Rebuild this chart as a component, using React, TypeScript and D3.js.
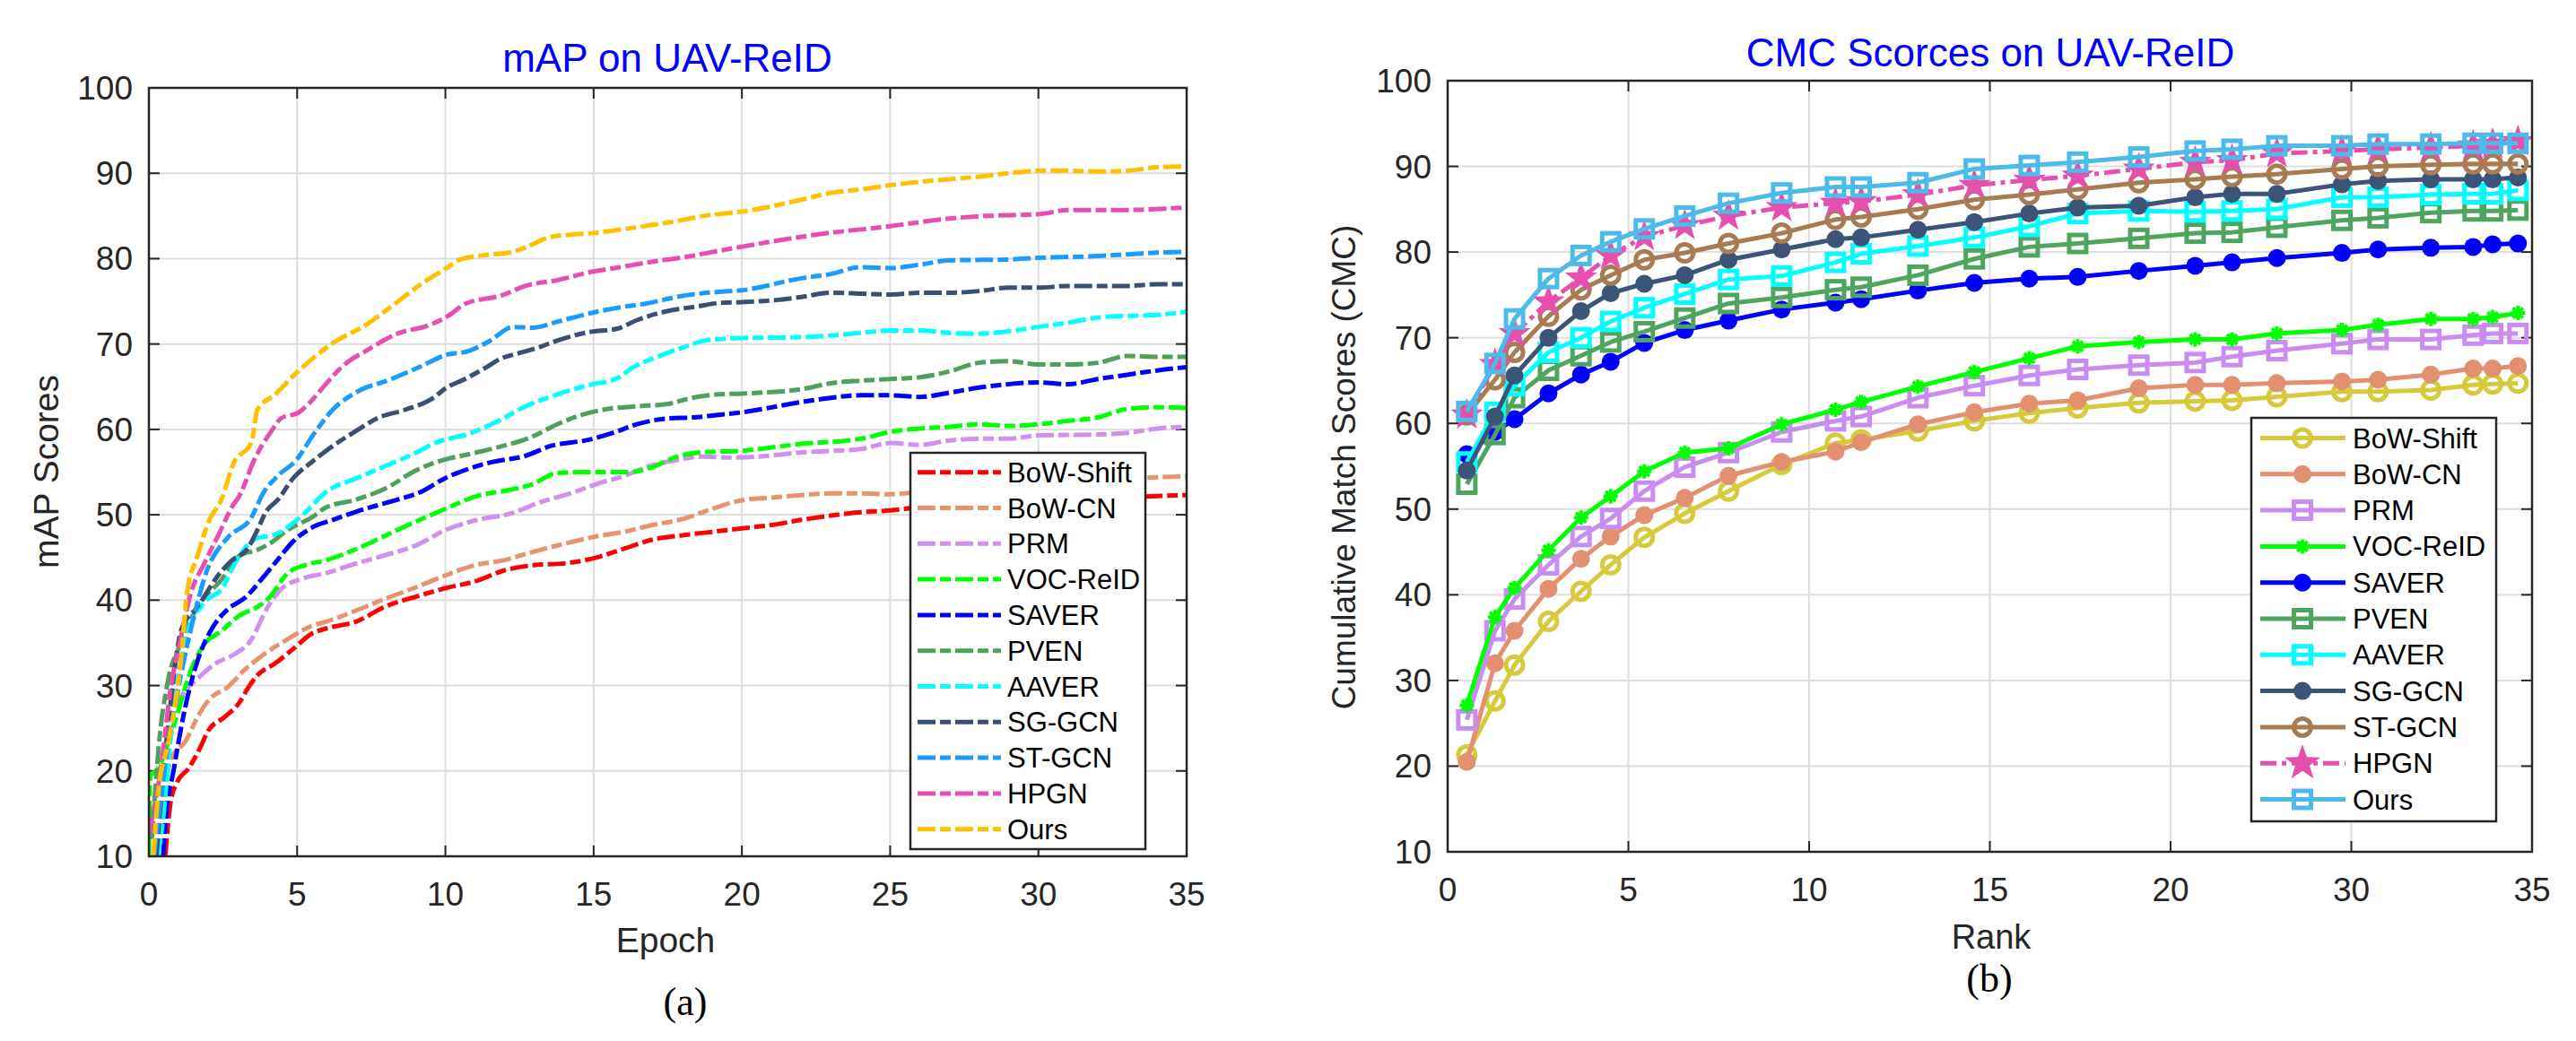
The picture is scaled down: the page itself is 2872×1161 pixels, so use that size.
import React from 'react'
import * as d3 from 'd3'

type Pt = [number, number]

const FONT = '"Liberation Sans", Arial, Helvetica, sans-serif'
const INK = '#262626'
const GRID = '#dedede'

// ── (a) mAP on UAV-ReID ─────────────────────────────────────────
const epochTicks = [0, 5, 10, 15, 20, 25, 30, 35]
const scoreTicks = [10, 20, 30, 40, 50, 60, 70, 80, 90, 100]

const mapBowShift: Pt[] = [[0.55, 10], [0.74, 16.5], [0.94, 18.6], [1.34, 20.3], [1.64, 22.1], [2.04, 24.9], [2.55, 26.3], [3.05, 28], [3.36, 29.8], [3.66, 31.2], [4.26, 32.6], [4.87, 34.3], [5.5, 36.1], [6, 36.7], [7, 37.5], [8, 39.3], [9, 40.4], [10, 41.4], [11, 42.2], [12, 43.5], [13, 44.1], [14, 44.3], [15, 44.9], [16, 46], [17, 47.1], [18, 47.6], [19, 48], [20, 48.4], [21, 48.8], [22, 49.4], [23, 49.9], [24, 50.3], [25, 50.5], [26, 50.9], [28, 51.3], [30, 51.6], [32, 51.9], [34, 52.2], [35, 52.3]]
const mapBowCN: Pt[] = [[0.3, 10], [0.43, 14.7], [0.74, 21.4], [1.24, 23.5], [1.64, 26.3], [2.04, 28.4], [2.65, 29.8], [3.25, 31.9], [3.86, 33.6], [4.67, 35.4], [5.5, 37], [6, 37.5], [7, 38.8], [8, 40.2], [9, 41.5], [10, 42.9], [11, 44.1], [12, 44.7], [13, 45.7], [14, 46.6], [15, 47.4], [16, 48], [17, 48.8], [18, 49.5], [19, 50.7], [20, 51.7], [21, 52], [22, 52.3], [23, 52.5], [24, 52.5], [25, 52.4], [26, 52.7], [28, 53.2], [30, 53.6], [32, 54], [34, 54.4], [35, 54.5]]
const mapPRM: Pt[] = [[0.3, 10], [0.64, 24.9], [1.04, 28.4], [1.64, 30.8], [2.25, 32.6], [2.85, 33.6], [3.46, 35.4], [3.96, 38.9], [4.46, 41.3], [5.06, 42.4], [6, 43.2], [7, 44.3], [8, 45.3], [9, 46.4], [10, 48.2], [11.07, 49.4], [12.15, 50.1], [13.22, 51.5], [14.2, 52.5], [15.1, 53.6], [16.07, 54.6], [16.88, 55.7], [17.8, 56.4], [18.6, 56.8], [19.6, 56.7], [20.5, 56.8], [22, 57.3], [24, 57.7], [25, 58.4], [26, 58.2], [27, 58.7], [28, 58.9], [29, 58.9], [30, 59.3], [32, 59.4], [33, 59.6], [34, 60.1], [35, 60.3]]
const mapVOC: Pt[] = [[0, 10], [0.05, 19.5], [0.25, 20], [0.83, 25.2], [1.43, 31.9], [1.84, 34.7], [2.45, 36.4], [3.05, 38.2], [3.66, 39.2], [4.06, 40.3], [4.67, 43.1], [5.27, 44.1], [6, 44.7], [7, 46], [8, 47.6], [9, 49.2], [10, 50.7], [11.07, 52.2], [12.15, 52.9], [12.95, 53.6], [13.77, 54.9], [14.85, 55], [16.2, 55], [17, 55.6], [17.8, 56.8], [18.6, 57.3], [20, 57.5], [22, 58.3], [24, 58.9], [25, 59.7], [26, 60.1], [27, 60.3], [28, 60.6], [29, 60.4], [30, 60.6], [31, 61], [32, 61.4], [33, 62.4], [34, 62.6], [35, 62.5]]
const mapSAVER: Pt[] = [[0.48, 10], [0.58, 14.7], [0.83, 20], [1.24, 27.7], [1.64, 32.9], [2.15, 36.8], [2.65, 38.9], [3.25, 40.3], [3.86, 42.7], [4.36, 44.8], [4.87, 46.9], [5.5, 48.5], [6.2, 49.4], [7.02, 50.4], [8.1, 51.5], [9.18, 52.7], [10, 54.3], [10.8, 55.4], [11.6, 56.2], [12.7, 56.9], [13.5, 58], [14.85, 58.8], [15.66, 59.6], [16.46, 60.6], [17.55, 61.3], [18.36, 61.4], [19.2, 61.7], [20, 62], [22, 63.2], [23, 63.7], [24, 64], [25, 64], [26, 63.8], [27, 64.3], [28, 64.9], [29, 65.3], [30, 65.5], [31, 65.3], [32, 65.9], [33, 66.4], [34, 66.9], [35, 67.3]]
const mapPVEN: Pt[] = [[0.1, 12], [0.33, 22.8], [0.64, 30.5], [1.04, 34.7], [1.64, 39.2], [2.45, 42.4], [3.05, 45.2], [3.66, 45.9], [4.15, 46.8], [4.67, 48.2], [5.5, 49.7], [5.94, 50.8], [7.02, 51.8], [8.1, 53.3], [8.9, 55], [9.72, 56.2], [10.8, 57.1], [11.88, 58], [12.83, 59], [13.77, 60.6], [14.6, 61.7], [15.5, 62.4], [16.46, 62.7], [17.55, 63], [18.2, 63.6], [19.2, 64.1], [20, 64.2], [22, 64.7], [23, 65.4], [24, 65.7], [25, 65.9], [26, 66.1], [27, 66.8], [28, 67.8], [29, 68], [30, 67.6], [31, 67.6], [32, 67.8], [33, 68.6], [34, 68.5], [35, 68.5]]
const mapAAVER: Pt[] = [[0.3, 10], [0.43, 13], [0.83, 27], [1.24, 35.4], [1.84, 39.6], [2.45, 41.3], [3.05, 45.2], [3.66, 47.3], [4.18, 47.6], [5, 49.4], [6.07, 52.9], [7.02, 54.3], [7.83, 55.5], [8.9, 57.1], [9.72, 58.5], [10.8, 59.5], [11.74, 60.9], [12.7, 62.7], [13.77, 64.1], [14.85, 65.2], [15.8, 66], [16.3, 67.2], [17.15, 68.5], [18.1, 69.7], [18.76, 70.4], [20, 70.7], [22, 70.8], [23, 71], [24, 71.3], [25, 71.6], [26, 71.6], [27, 71.3], [28, 71.2], [29, 71.5], [30, 72], [31, 72.5], [32, 73.1], [33, 73.3], [34, 73.4], [35, 73.8]]
const mapSGGCN: Pt[] = [[0.25, 10], [0.5, 20], [0.8, 30], [1.09, 36.5], [1.64, 39.2], [2.45, 43.4], [2.75, 44.5], [3.36, 46.2], [3.67, 48.3], [3.96, 50.4], [4.36, 51.8], [4.87, 54.3], [5.5, 56.2], [5.94, 57.4], [7.02, 59.9], [7.7, 61.3], [8.64, 62.3], [9.6, 63.7], [10, 64.8], [10.66, 65.9], [11.34, 67.2], [11.88, 68.3], [12.56, 69], [13.22, 69.7], [13.77, 70.4], [14.85, 71.4], [15.8, 71.8], [16.46, 72.8], [17.55, 73.9], [18.5, 74.4], [19.2, 74.8], [20, 74.9], [21, 75.1], [22, 75.5], [23, 76], [24, 75.9], [25, 75.8], [26, 76], [27, 76], [28, 76.2], [29, 76.6], [30, 76.6], [31, 76.8], [33, 76.8], [34, 77], [35, 77]]
const mapSTGCN: Pt[] = [[0.18, 10], [0.52, 20], [0.94, 28.7], [1.43, 36.8], [1.95, 43.4], [2.65, 47.3], [3.46, 49.7], [3.85, 52.5], [4.36, 54.6], [4.97, 56.4], [5.57, 59.5], [6.2, 62.3], [7.02, 64.4], [8.1, 65.8], [9.18, 67.4], [10, 68.7], [10.8, 69.2], [11.47, 70.3], [12.28, 72], [12.95, 71.9], [13.77, 72.6], [15, 73.7], [15.9, 74.3], [16.7, 74.7], [18.1, 75.7], [19.2, 76.1], [20, 76.3], [22, 77.7], [23, 78.2], [24, 79], [25, 78.9], [26, 79.3], [27, 79.8], [29, 79.9], [30, 80.1], [32, 80.3], [33, 80.5], [34, 80.7], [35, 80.8]]
const mapHPGN: Pt[] = [[0, 12.6], [0.43, 21], [0.74, 29.8], [1.04, 35], [1.43, 41], [1.84, 44.1], [2.34, 47.6], [2.85, 51.2], [3.05, 52.2], [3.55, 56.4], [4.15, 59.9], [4.46, 61.3], [5.06, 62], [5.5, 63.4], [5.94, 65.2], [6.5, 67.3], [7.42, 69.4], [8.37, 71.2], [9.45, 72.2], [10.1, 73.3], [10.66, 74.7], [11.9, 75.7], [12.7, 76.8], [13.8, 77.5], [15, 78.5], [15.9, 79], [16.9, 79.6], [18.1, 80.2], [19.2, 80.9], [20, 81.4], [22.7, 82.9], [25, 83.8], [27, 84.7], [28.2, 85], [30, 85.2], [31, 85.7], [33, 85.7], [34.5, 85.9], [35, 86]]
const mapOurs: Pt[] = [[0.15, 10], [0.33, 17.9], [0.67, 23.5], [1.09, 33.3], [1.28, 40.7], [1.64, 45.2], [2.04, 49.4], [2.45, 51.8], [2.85, 56], [3.46, 58.5], [3.66, 62.3], [4.26, 64.1], [5, 66.7], [6.2, 70.1], [7.3, 72.2], [8.37, 74.9], [9.17, 77], [10, 78.8], [10.5, 79.9], [11.3, 80.4], [12.15, 80.7], [12.7, 81.3], [13.5, 82.5], [14.2, 82.8], [15, 83], [15.9, 83.4], [16.9, 83.9], [17.8, 84.4], [18.9, 85.1], [20, 85.5], [22, 86.9], [23, 87.7], [24, 88.1], [25, 88.6], [26, 89], [27, 89.3], [28, 89.6], [29, 90], [30, 90.3], [31, 90.3], [32, 90.2], [33, 90.3], [34, 90.7], [35, 90.8]]

const methodNames = ['BoW-Shift', 'BoW-CN', 'PRM', 'VOC-ReID', 'SAVER', 'PVEN', 'AAVER', 'SG-GCN', 'ST-GCN', 'HPGN', 'Ours']
const mapSeries = [mapBowShift, mapBowCN, mapPRM, mapVOC, mapSAVER, mapPVEN, mapAAVER, mapSGGCN, mapSTGCN, mapHPGN, mapOurs]
const mapColours = ['#ff0000', '#e8926f', '#cf90f0', '#00ff00', '#0000ff', '#4f9f5f', '#00ffff', '#3a5072', '#1a9cff', '#e54faf', '#ffc000']

// ── (b) CMC scores on UAV-ReID ──────────────────────────────────
// rank positions are in tick units: ticks sit at 0..30 step 5, labelled below
const rankTickPos = [0, 5, 10, 15, 20, 25, 30]
const rankTickLabels = ['0', '5', '10', '15', '20', '30', '35']
const rankPos = [0.53, 1.31, 1.85, 2.79, 3.69, 4.51, 5.44, 6.56, 7.77, 9.24, 10.73, 11.44, 13.01, 14.57, 16.09, 17.43, 19.12, 20.68, 21.7, 22.94, 24.74, 25.74, 27.2, 28.37, 28.91, 29.61]

const cmcBowShift = [21.3, 27.6, 31.8, 36.9, 40.4, 43.5, 46.7, 49.5, 52.1, 55.2, 57.7, 58.1, 59.1, 60.3, 61.2, 61.8, 62.4, 62.6, 62.7, 63.1, 63.7, 63.7, 63.9, 64.5, 64.6, 64.7]
const cmcBowCN = [20.5, 32, 35.8, 40.7, 44.2, 46.8, 49.3, 51.3, 53.9, 55.5, 56.7, 57.8, 59.9, 61.3, 62.3, 62.7, 64.1, 64.5, 64.5, 64.7, 64.9, 65.1, 65.7, 66.4, 66.4, 66.7]
const cmcPRM = [25.4, 35.8, 39.5, 43.5, 46.8, 48.9, 52.1, 54.9, 56.6, 59, 60.3, 60.8, 63, 64.4, 65.6, 66.3, 66.8, 67.1, 67.8, 68.5, 69.3, 69.8, 69.8, 70.3, 70.5, 70.5]
const cmcVOC = [27.1, 37.4, 40.8, 45.2, 49, 51.5, 54.4, 56.6, 57.1, 59.9, 61.6, 62.5, 64.3, 66, 67.6, 69, 69.5, 69.8, 69.8, 70.5, 70.9, 71.5, 72.2, 72.2, 72.4, 72.9]
const cmcSAVER = [56.4, 59, 60.5, 63.5, 65.7, 67.2, 69.4, 70.9, 72, 73.3, 74.1, 74.5, 75.5, 76.4, 76.9, 77.1, 77.8, 78.4, 78.8, 79.3, 79.9, 80.3, 80.5, 80.6, 80.9, 81]
const cmcPVEN = [52.9, 58.7, 63, 66.2, 67.9, 69.5, 70.7, 72.3, 74, 74.7, 75.6, 75.9, 77.3, 79.2, 80.6, 81, 81.6, 82.2, 82.3, 82.9, 83.7, 84, 84.6, 84.8, 84.8, 84.9]
const cmcAAVER = [55.5, 61.3, 64.4, 68.3, 70, 71.9, 73.5, 75.1, 76.8, 77.2, 78.8, 79.8, 80.7, 81.7, 83, 84.5, 84.8, 84.7, 84.8, 85, 86.4, 86.4, 86.7, 86.8, 86.8, 87.2]
const cmcSGGCN = [54.5, 60.8, 65.6, 70, 73.1, 75.2, 76.3, 77.3, 79.1, 80.3, 81.5, 81.7, 82.6, 83.5, 84.5, 85.2, 85.4, 86.4, 86.8, 86.8, 87.9, 88.3, 88.5, 88.5, 88.5, 88.7]
const cmcSTGCN = [61, 65.1, 68.3, 72.5, 75.6, 77.3, 79.1, 79.9, 81, 82.2, 83.8, 84.1, 85, 86.1, 86.7, 87.3, 88.1, 88.5, 88.8, 89.1, 89.7, 90, 90.2, 90.3, 90.3, 90.3]
const cmcHPGN = [61, 66.9, 70.5, 74.2, 77, 79.6, 81.8, 83.1, 84.2, 85.2, 85.7, 85.9, 86.7, 87.8, 88.4, 88.9, 89.7, 90.5, 90.7, 91.5, 91.8, 92, 92.2, 92.4, 92.6, 92.9]
const cmcOurs = [61.4, 67, 72.2, 76.9, 79.6, 81.2, 82.7, 84.2, 85.7, 86.9, 87.6, 87.6, 88.1, 89.7, 90.1, 90.5, 91.1, 91.8, 92, 92.4, 92.4, 92.6, 92.6, 92.7, 92.7, 92.7]

const cmcSeries = [cmcBowShift, cmcBowCN, cmcPRM, cmcVOC, cmcSAVER, cmcPVEN, cmcAAVER, cmcSGGCN, cmcSTGCN, cmcHPGN, cmcOurs]
const cmcColours = ['#d6c93c', '#e39070', '#c98cf0', '#00ff00', '#0000ff', '#4fa55e', '#00ffff', '#3b5477', '#a87b52', '#e64fae', '#4dbbe9']
const cmcMarkers = ['circleOpen', 'circleFilled', 'squareOpen', 'asterisk', 'circleFilled', 'squareOpen', 'squareOpen', 'circleFilled', 'circleOpen', 'star', 'squareOpen']

// ── scales ──────────────────────────────────────────────────────
const xA = d3.scaleLinear().domain([0, 35]).range([166, 1323])
const yA = d3.scaleLinear().domain([10, 100]).range([955, 98])
const xB = d3.scaleLinear().domain([0, 30]).range([1614, 2823])
const yB = d3.scaleLinear().domain([10, 100]).range([950, 90])

const DASH = '20 5 12 5'
const DASHDOT = '18 6 5 6'

function starPath(cx: number, cy: number, R: number, r: number) {
  const pts: string[] = []
  for (let i = 0; i < 10; i++) {
    const a = -Math.PI / 2 + (i * Math.PI) / 5
    const rad = i % 2 === 0 ? R : r
    pts.push(`${cx + rad * Math.cos(a)},${cy + rad * Math.sin(a)}`)
  }
  return `M${pts.join('L')}Z`
}

function Marker({ kind, colour, x, y, legend }: { kind: string; colour: string; x: number; y: number; legend?: boolean }) {
  if (kind === 'circleOpen') return <circle cx={x} cy={y} r={9.5} fill="none" stroke={colour} strokeWidth={5} />
  if (kind === 'circleFilled') return <circle cx={x} cy={y} r={10} fill={colour} />
  if (kind === 'squareOpen') return <rect x={x - 9.5} y={y - 9.5} width={19} height={19} fill="none" stroke={colour} strokeWidth={5} />
  if (kind === 'asterisk') {
    const s = 8
    return (
      <path
        d={`M${x - s},${y}H${x + s}M${x},${y - s}V${y + s}M${x - s * 0.7},${y - s * 0.7}L${x + s * 0.7},${y + s * 0.7}M${x - s * 0.7},${y + s * 0.7}L${x + s * 0.7},${y - s * 0.7}`}
        stroke={colour}
        strokeWidth={4}
        fill="none"
      />
    )
  }
  // pentagram
  return <path d={starPath(x, y, legend ? 21 : 19, legend ? 8.5 : 7.6)} fill={colour} />
}

function Axes({ x, y, xTicks, xLabels, yTicks }: { x: d3.ScaleLinear<number, number>; y: d3.ScaleLinear<number, number>; xTicks: number[]; xLabels: string[]; yTicks: number[] }) {
  const [x0, x1] = x.range()
  const [y1, y0] = y.range()
  const tl = 12
  return (
    <g>
      {xTicks.slice(1, -1).map(t => (
        <line key={'gx' + t} x1={x(t)} x2={x(t)} y1={y0} y2={y1} stroke={GRID} strokeWidth={2} />
      ))}
      {yTicks.slice(1, -1).map(t => (
        <line key={'gy' + t} x1={x0} x2={x1} y1={y(t)} y2={y(t)} stroke={GRID} strokeWidth={2} />
      ))}
      {xTicks.map(t => (
        <g key={'tx' + t}>
          <line x1={x(t)} x2={x(t)} y1={y1} y2={y1 - tl} stroke={INK} strokeWidth={2} />
          <line x1={x(t)} x2={x(t)} y1={y0} y2={y0 + tl} stroke={INK} strokeWidth={2} />
        </g>
      ))}
      {yTicks.map(t => (
        <g key={'ty' + t}>
          <line x1={x0} x2={x0 + tl} y1={y(t)} y2={y(t)} stroke={INK} strokeWidth={2} />
          <line x1={x1} x2={x1 - tl} y1={y(t)} y2={y(t)} stroke={INK} strokeWidth={2} />
        </g>
      ))}
      {xTicks.map((t, i) => (
        <text key={'lx' + t} x={x(t)} y={y1 + 55} textAnchor="middle" fontSize={37} fill={INK}>
          {xLabels[i]}
        </text>
      ))}
      {yTicks.map(t => (
        <text key={'ly' + t} x={x0 - 18} y={y(t) + 13} textAnchor="end" fontSize={37} fill={INK}>
          {t}
        </text>
      ))}
    </g>
  )
}

function Frame({ x, y }: { x: d3.ScaleLinear<number, number>; y: d3.ScaleLinear<number, number> }) {
  const [x0, x1] = x.range()
  const [y1, y0] = y.range()
  return <rect x={x0} y={y0} width={x1 - x0} height={y1 - y0} fill="none" stroke={INK} strokeWidth={2.5} />
}

export default function App() {
  const lineA = d3.line<Pt>().x(d => xA(d[0])).y(d => yA(d[1])).curve(d3.curveMonotoneX)
  const lineB = d3.line<number>().x((_, i) => xB(rankPos[i])).y(d => yB(d))

  const legA = { x: 1015, y: 505, w: 262, h: 442, first: 526.7, step: 39.8 }
  const legB = { x: 2510, y: 466, w: 273, h: 450, first: 488.5, step: 40.3 }

  return (
    <svg
      width={2872}
      height={1161}
      style={{ position: 'fixed', left: 0, top: 0, background: '#fff' }}
      fontFamily={FONT}
    >
      <defs>
        <clipPath id="clipA">
          <rect x={166} y={98} width={1157} height={857} />
        </clipPath>
        <clipPath id="clipB">
          <rect x={1614} y={90} width={1209} height={860} />
        </clipPath>
      </defs>
      <rect width={2872} height={1161} fill="#fff" />

      {/* ── (a) ── */}
      <Axes x={xA} y={yA} xTicks={epochTicks} xLabels={epochTicks.map(String)} yTicks={scoreTicks} />
      <g clipPath="url(#clipA)">
        {mapSeries.map((s, i) => (
          <path key={i} d={lineA(s) || ''} fill="none" stroke={mapColours[i]} strokeWidth={5} strokeDasharray={DASH} />
        ))}
      </g>
      <Frame x={xA} y={yA} />
      <g>
        <rect x={legA.x} y={legA.y} width={legA.w} height={legA.h} fill="#fff" stroke={INK} strokeWidth={2.5} />
        {methodNames.map((n, i) => {
          const cy = legA.first + legA.step * i
          return (
            <g key={n}>
              <line x1={legA.x + 8} x2={legA.x + 101} y1={cy} y2={cy} stroke={mapColours[i]} strokeWidth={5} strokeDasharray={DASH} />
              <text x={legA.x + 108} y={cy + 11} fontSize={31} fill="#000">{n}</text>
            </g>
          )
        })}
      </g>
      <text x={744} y={80} textAnchor="middle" fontSize={44} fill="#0000ff">mAP on UAV-ReID</text>
      <text x={742} y={1062} textAnchor="middle" fontSize={39} fill={INK}>Epoch</text>
      <text transform="translate(65,526) rotate(-90)" textAnchor="middle" fontSize={39} fill={INK}>mAP Scores</text>
      <text x={764} y={1132} textAnchor="middle" fontSize={44} fontFamily='"Liberation Serif", "Times New Roman", serif' fill="#000">(a)</text>

      {/* ── (b) ── */}
      <Axes x={xB} y={yB} xTicks={rankTickPos} xLabels={rankTickLabels} yTicks={scoreTicks} />
      <g clipPath="url(#clipB)">
        {cmcSeries.map((s, i) => (
          <g key={i}>
            <path d={lineB(s) || ''} fill="none" stroke={cmcColours[i]} strokeWidth={5} strokeDasharray={cmcMarkers[i] === 'star' ? DASHDOT : undefined} strokeLinejoin="round" />
            {s.map((v, j) => (
              <Marker key={j} kind={cmcMarkers[i]} colour={cmcColours[i]} x={xB(rankPos[j])} y={yB(v)} />
            ))}
          </g>
        ))}
      </g>
      <Frame x={xB} y={yB} />
      <g>
        <rect x={legB.x} y={legB.y} width={legB.w} height={legB.h} fill="#fff" stroke={INK} strokeWidth={2.5} />
        {methodNames.map((n, i) => {
          const cy = legB.first + legB.step * i
          return (
            <g key={n}>
              <line x1={legB.x + 10} x2={legB.x + 105} y1={cy} y2={cy} stroke={cmcColours[i]} strokeWidth={5} strokeDasharray={cmcMarkers[i] === 'star' ? DASHDOT : undefined} />
              <Marker kind={cmcMarkers[i]} colour={cmcColours[i]} x={legB.x + 57} y={cy} legend />
              <text x={legB.x + 113} y={cy + 11} fontSize={31} fill="#000">{n}</text>
            </g>
          )
        })}
      </g>
      <text x={2219} y={74} textAnchor="middle" fontSize={44} fill="#0000ff">CMC Scorces on UAV-ReID</text>
      <text x={2220} y={1058} textAnchor="middle" fontSize={38} fill={INK}>Rank</text>
      <text transform="translate(1511,521) rotate(-90)" textAnchor="middle" fontSize={37} fill={INK}>Cumulative Match Scores (CMC)</text>
      <text x={2218} y={1106} textAnchor="middle" fontSize={44} fontFamily='"Liberation Serif", "Times New Roman", serif' fill="#000">(b)</text>
    </svg>
  )
}
